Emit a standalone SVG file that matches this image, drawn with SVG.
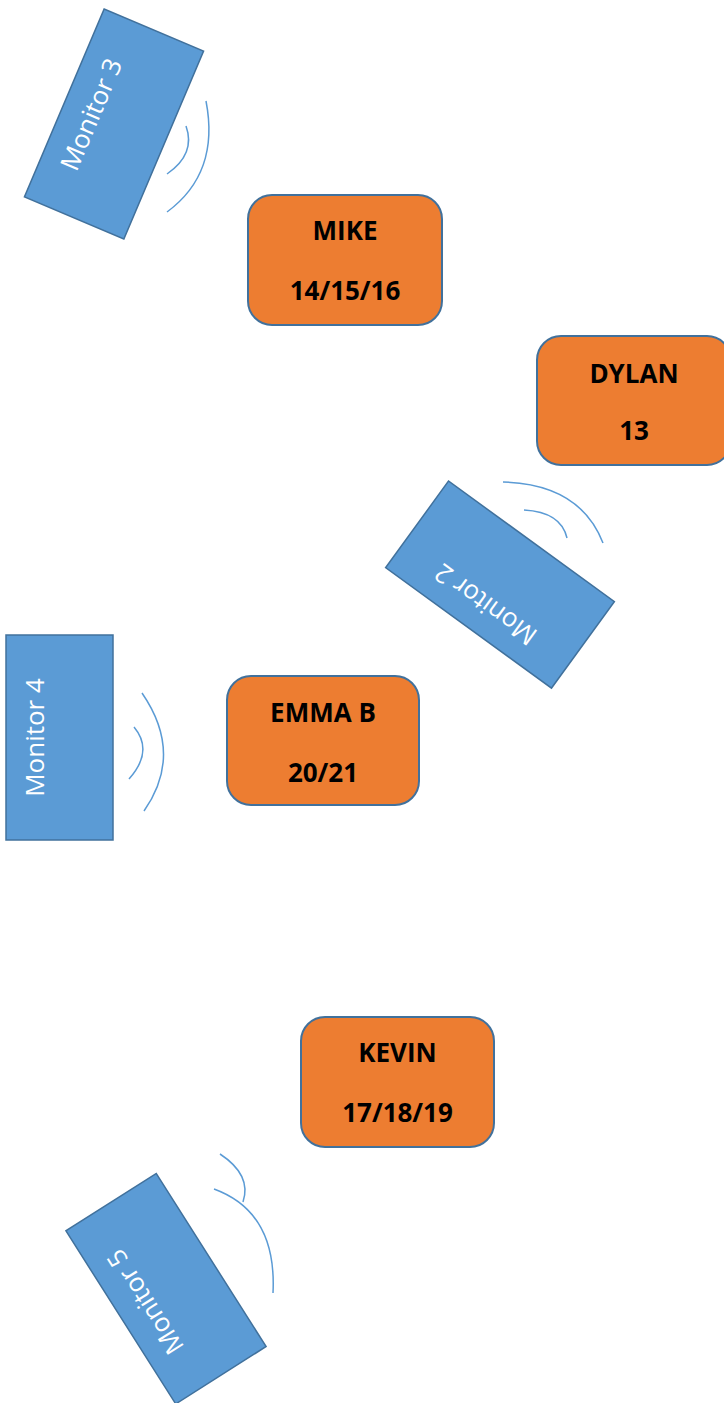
<svg xmlns="http://www.w3.org/2000/svg" width="724" height="1403" viewBox="0 0 724 1403">
<style>
.mon{fill:#5B9BD5;stroke:#41719C;stroke-width:1.5}
.mt{fill:#FFFFFF;font-family:"Open Sans","Liberation Sans",sans-serif;font-size:26px;text-anchor:middle}
.box{fill:#ED7D31;stroke:#41719C;stroke-width:2}
.bt{fill:#000000;font-family:"Open Sans","Liberation Sans",sans-serif;font-weight:bold;font-size:26px;text-anchor:middle}
.wave{fill:none;stroke:#5B9BD5;stroke-width:1.5}
</style>
<rect width="724" height="1403" fill="#FFFFFF"/>
<g id="monitor3">
<g transform="translate(114,124) rotate(23)">
<rect class="mon" x="-54" y="-102" width="108" height="204"/>
<text class="mt" transform="rotate(-90)" x="0" y="-15.5">Monitor 3</text>
</g>
<path class="wave" d="M206,101 Q220,173 167,212"/>
<path class="wave" d="M186,126 Q196,154 167,174"/>
</g>
<g id="monitor2">
<g transform="translate(500,584.6) rotate(-54)">
<rect class="mon" x="-53.5" y="-102.5" width="107" height="205"/>
<text class="mt" transform="rotate(-90)" x="0" y="-15.5">Monitor 2</text>
</g>
<path class="wave" d="M503,482 Q580,484 603,543"/>
<path class="wave" d="M524,510 Q561,512 567,538"/>
</g>
<g id="monitor4">
<g transform="translate(59.5,737.5)">
<rect class="mon" x="-53.5" y="-102.5" width="107" height="205"/>
<text class="mt" transform="rotate(-90)" x="0" y="-15.5">Monitor 4</text>
</g>
<path class="wave" d="M142,693 Q184,754 144,811"/>
<path class="wave" d="M134,727 Q154,751 129,779"/>
</g>
<g id="monitor5">
<g transform="translate(166,1288.7) rotate(-32.4)">
<rect class="mon" x="-53.5" y="-102.5" width="107" height="205"/>
<text class="mt" transform="rotate(-90)" x="0" y="-15.5">Monitor 5</text>
</g>
<path class="wave" d="M220,1154 Q252,1175 243,1202"/>
<path class="wave" d="M214,1189 Q277,1212 273,1293"/>
</g>
<g id="mike">
<rect class="box" x="248" y="195" width="194" height="130" rx="24"/>
<text class="bt" x="345" y="240">MIKE</text>
<text class="bt" x="345" y="300">14/15/16</text>
</g>
<g id="dylan">
<rect class="box" x="537" y="336" width="194" height="129" rx="24"/>
<text class="bt" x="634" y="383">DYLAN</text>
<text class="bt" x="634" y="440">13</text>
</g>
<g id="emma">
<rect class="box" x="227" y="676" width="192" height="129" rx="24"/>
<text class="bt" x="323" y="722">EMMA B</text>
<text class="bt" x="323" y="782">20/21</text>
</g>
<g id="kevin">
<rect class="box" x="301" y="1017" width="193" height="130" rx="24"/>
<text class="bt" x="397.5" y="1062">KEVIN</text>
<text class="bt" x="397.5" y="1122">17/18/19</text>
</g>
</svg>
